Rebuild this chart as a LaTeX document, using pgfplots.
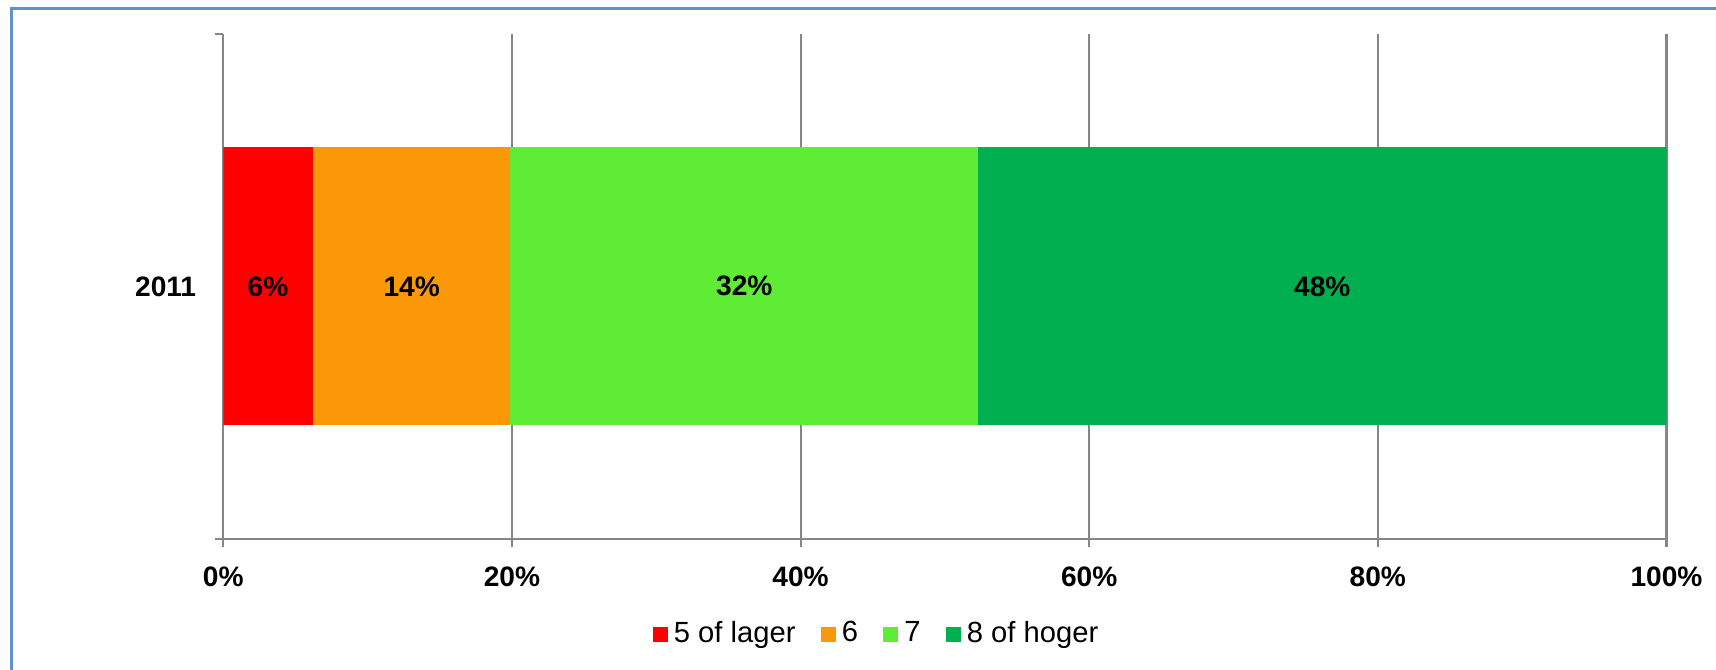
\documentclass[border=0pt]{standalone}
\usepackage{fontspec}
\setmainfont{Liberation Sans}
\usepackage{pgfplots}
\pgfplotsset{compat=1.18}
\definecolor{cRed}{RGB}{255,0,0}
\definecolor{cOrange}{RGB}{250,152,7}
\definecolor{cLight}{RGB}{94,236,53}
\definecolor{cDark}{RGB}{0,176,80}
\definecolor{cGrid}{RGB}{134,134,134}
\definecolor{cFrame}{RGB}{100,145,205}
\begin{document}
\begin{tikzpicture}
\useasboundingbox (0,0) rectangle (17.16cm,6.70cm);
\draw[cFrame, line width=0.3mm] (0.11cm,0cm) -- (0.11cm,6.61cm) -- (17.16cm,6.61cm);
\begin{axis}[
  at={(2.233cm,1.313cm)}, anchor=south west,
  scale only axis, width=14.432cm, height=5.047cm,
  xbar stacked, bar width=2.78cm,
  xmin=0, xmax=100, ymin=-0.5, ymax=0.5,
  enlargelimits=false,
  axis x line=bottom, axis y line=left,
  axis line style={draw=cGrid, line width=0.6pt, -},
  xmajorgrids, grid style={draw=cGrid, line width=0.6pt},
  tick align=outside, major tick length=0.085cm,
  tick style={draw=cGrid, line width=0.6pt},
  xtick={0,20,40,60,80,100},
  xticklabels={0\%,20\%,40\%,60\%,80\%,100\%},
  xticklabel style={font=\bfseries\fontsize{8}{9.6}\selectfont, yshift=-2pt},
  ytick={-0.5,0.5}, yticklabels={,},
  extra y ticks={0}, extra y tick labels={2011},
  extra y tick style={major tick length=0pt, yticklabel style={font=\bfseries\fontsize{8}{9.6}\selectfont, xshift=-4.2pt}},
  legend columns=4,
  legend style={at={(0.297,-0.189)}, anchor=west, draw=none, inner sep=0pt,
    nodes={inner sep=0pt},
    font=\fontsize{8.3}{10}\selectfont,
    /tikz/every odd column/.append style={column sep=0.063cm},
    /tikz/every even column/.append style={column sep=0.25cm}},
  legend image code/.code={\fill[#1] (0cm,-0.075cm) rectangle (0.15cm,0.075cm);},
  nodes near coords, point meta=explicit symbolic,
  every node near coord/.append style={font=\bfseries\fontsize{8}{9.6}\selectfont, text=black, anchor=center},
]
\addplot[fill=cRed, draw=none] coordinates {(6.2,0) [6\%]};
\addlegendentry{5 of lager}
\addplot[fill=cOrange, draw=none] coordinates {(13.7,0) [14\%]};
\addlegendentry{6}
\addplot[fill=cLight, draw=none] coordinates {(32.4,0) [32\%]};
\addlegendentry{7}
\addplot[fill=cDark, draw=none] coordinates {(47.7,0) [48\%]};
\addlegendentry{8 of hoger}
\end{axis}
\end{tikzpicture}
\end{document}
